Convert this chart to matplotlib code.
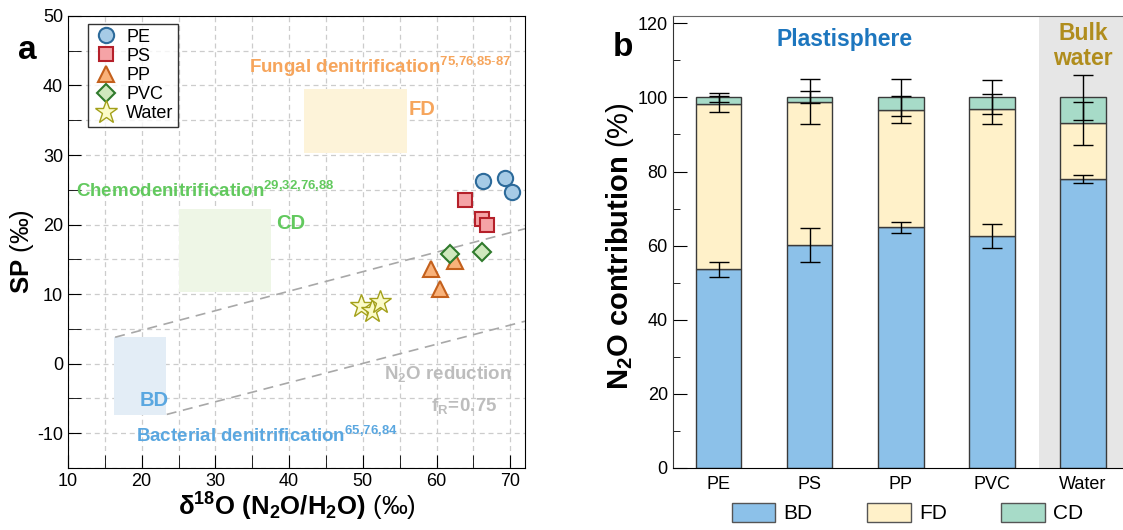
import numpy as np
import matplotlib
matplotlib.use("Agg")
import matplotlib.pyplot as plt
from matplotlib.patches import Rectangle, Patch

plt.rcParams['font.family'] = ['Liberation Sans', 'DejaVu Sans']
plt.rcParams['mathtext.fontset'] = 'custom'
plt.rcParams['mathtext.rm'] = 'Liberation Sans'
plt.rcParams['mathtext.bf'] = 'Liberation Sans:bold'
plt.rcParams['mathtext.it'] = 'Liberation Sans:italic'
plt.rcParams['axes.unicode_minus'] = False

# panel a: isotope data (d18O, SP)
pe_x = [66.3, 69.3, 70.2]
pe_y = [26.3, 26.7, 24.7]
ps_x = [63.9, 66.2, 66.9]
ps_y = [23.5, 20.8, 19.9]
pp_x = [59.3, 60.5, 62.5]
pp_y = [13.6, 10.7, 14.8]
pvc_x = [61.8, 66.2]
pvc_y = [15.7, 16.0]
water_x = [49.8, 51.2, 52.3]
water_y = [8.3, 7.6, 8.9]

# source boxes: (x0, x1, y0, y1)
fd_box = (42, 56, 30.3, 39.5)
cd_box = (25, 37.5, 10.3, 22.2)
bd_box = (16.2, 23.3, -7.4, 3.8)

# reduction lines
line_upper = ([16.4, 72], [3.8, 19.4])
line_lower = ([23.4, 72], [-7.3, 6.1])

# panel b: contributions (%)
samples = ['PE', 'PS', 'PP', 'PVC', 'Water']
bd = [53.6, 60.1, 65.0, 62.6, 78.1]
fd = [44.7, 38.7, 31.7, 34.3, 14.9]
cd = [1.7, 1.2, 3.3, 3.1, 7.0]
bd_err = [2.0, 4.6, 1.5, 3.2, 1.1]
fd_err = [2.2, 6.1, 3.6, 4.0, 5.8]
cd_err = [1.2, 1.6, 5.0, 4.6, 6.0]

fig = plt.figure(figsize=(11.23, 5.3), dpi=100)

# ---------- panel a ----------
ax = fig.add_axes([0.0605, 0.117, 0.407, 0.853])
ax.set_xlim(10, 72)
ax.set_ylim(-15, 50)
ax.set_xticks(np.arange(10, 71, 10))
ax.set_xticks(np.arange(15, 71, 5), minor=True)
ax.set_yticks(np.arange(-10, 51, 10))
ax.set_yticks(np.arange(-15, 51, 5), minor=True)
ax.grid(True, which='both', ls=(0, (4, 3)), color='#cccccc', lw=0.9)
ax.set_axisbelow(True)
ax.tick_params(which='both', direction='in', labelsize=13, top=False, right=False, length=9.5)

for (x0, x1, y0, y1), c in [(fd_box, '#fdf3d9'), (cd_box, '#eef6e6'), (bd_box, '#e3edf6')]:
    ax.add_patch(Rectangle((x0, y0), x1 - x0, y1 - y0, color=c, lw=0, zorder=1))

ax.plot(*line_upper, ls=(0, (6, 4)), color='#a8a8a8', lw=1.2, zorder=2)
ax.plot(*line_lower, ls=(0, (6, 4)), color='#a8a8a8', lw=1.2, zorder=2)

ax.plot(pe_x, pe_y, 'o', ms=11, mfc='#a6cbe6', mec='#2c6a9a', mew=1.5, ls='none', label='PE', zorder=4)
ax.plot(ps_x, ps_y, 's', ms=10, mfc='#f5a3a6', mec='#b5202a', mew=1.5, ls='none', label='PS', zorder=4)
ax.plot(pp_x, pp_y, '^', ms=12, mfc='#f9b27a', mec='#c4601c', mew=1.5, ls='none', label='PP', zorder=4)
ax.plot(pvc_x, pvc_y, 'D', ms=9, mfc='#cfe8bd', mec='#2f7a2c', mew=1.5, ls='none', label='PVC', zorder=4)
ax.plot(water_x, water_y, '*', ms=17, mfc='#fbfbc8', mec='#a3a01a', mew=1.0, ls='none', label='Water', zorder=4)

leg = ax.legend(loc='upper left', bbox_to_anchor=(0.035, 0.99), fontsize=13, frameon=True,
                fancybox=False, edgecolor='black', handletextpad=0.4, borderpad=0.25,
                labelspacing=0.12, handlelength=1.5, borderaxespad=0.2)
leg.get_frame().set_linewidth(1.0)

orange = '#f6a55c'
green = '#62c95e'
blue = '#5aa7e0'
grey = '#bdbdbd'
ax.text(34.6, 41.8, r'$\mathbf{Fungal\ denitrification}^{\mathbf{75{,}76{,}85\text{-}87}}$',
        color=orange, fontsize=13.5, va='baseline', ha='left')
ax.text(56.2, 36.6, 'FD', color=orange, fontsize=14.5, fontweight='bold', va='center')
ax.text(11.1, 24.0, r'$\mathbf{Chemodenitrification}^{\mathbf{29{,}32{,}76{,}88}}$',
        color=green, fontsize=13.5, va='baseline', ha='left')
ax.text(38.3, 20.1, 'CD', color=green, fontsize=14.5, fontweight='bold', va='center')
ax.text(19.7, -5.3, 'BD', color=blue, fontsize=14.5, fontweight='bold', va='center')
ax.text(19.2, -11.3, r'$\mathbf{Bacterial\ denitrification}^{\mathbf{65{,}76{,}84}}$',
        color=blue, fontsize=13.5, va='baseline', ha='left')
ax.text(52.9, -1.5, r'$\mathbf{N_2O\ reduction}$', color=grey, fontsize=13.5, va='center')
ax.text(59.3, -6.1, r'$\mathbf{f_R\!=\!0.75}$', color=grey, fontsize=13.5, va='center')

ax.set_xlabel(r'$\mathbf{δ^{18}O\ (N_2O/H_2O)}$ (‰)', fontsize=18.5, labelpad=1)
ax.set_ylabel(r'$\mathbf{SP}$ (‰)', fontsize=18.5)
ax.yaxis.set_label_coords(-0.07, 0.479)

fig.text(0.016, 0.905, 'a', fontsize=24, fontweight='bold', va='center')

# ---------- panel b ----------
bx = fig.add_axes([0.599, 0.117, 0.401, 0.853])
x = np.arange(len(samples))
bx.set_xlim(-0.505, 4.44)
bx.set_ylim(0, 122)
bx.axvspan(3.52, 4.6, color='#e6e6e6', lw=0, zorder=0)

bd_a = np.array(bd)
fd_a = np.array(fd)
cd_a = np.array(cd)
w = 0.5
ec = '#3a3a3a'
bx.bar(x, bd_a, w, color='#8cc1e9', edgecolor=ec, lw=1, zorder=2)
bx.bar(x, fd_a, w, bottom=bd_a, color='#fff1c9', edgecolor=ec, lw=1, zorder=2)
bx.bar(x, cd_a, w, bottom=bd_a + fd_a, color='#a7dbc8', edgecolor=ec, lw=1, zorder=2)

ekw = dict(fmt='none', ecolor='black', elinewidth=1, capsize=7, capthick=1, zorder=3)
bx.errorbar(x, bd_a, yerr=bd_err, **ekw)
bx.errorbar(x, bd_a + fd_a, yerr=fd_err, **ekw)
bx.errorbar(x, bd_a + fd_a + cd_a, yerr=cd_err, **ekw)

bx.set_xticks(x)
bx.set_xticklabels(samples, fontsize=13)
bx.set_yticks(np.arange(0, 121, 20))
bx.set_yticks(np.arange(10, 121, 20), minor=True)
bx.tick_params(axis='y', which='both', direction='in', labelsize=13)
bx.tick_params(axis='y', which='major', length=10)
bx.tick_params(axis='y', which='minor', length=5)
bx.tick_params(axis='x', length=0, pad=6)
bx.spines['right'].set_visible(False)
bx.spines['top'].set_color('#666666')
bx.spines['left'].set_color('#333333')

bx.text(1.38, 115.7, 'Plastisphere', color='#1d76be', fontsize=16.5, fontweight='bold',
        ha='center', va='center')
bx.text(4.0, 113.8, 'Bulk\nwater', color='#b08d1d', fontsize=16.5, fontweight='bold',
        ha='center', va='center', linespacing=1.1)

bx.set_ylabel(r'$\mathbf{N_2O\ contribution}$ (%)', fontsize=21)
bx.yaxis.set_label_coords(-0.082, 0.49)

handles = [Patch(facecolor='#8cc1e9', edgecolor='#555555', label='BD'),
           Patch(facecolor='#fff1c9', edgecolor='#555555', label='FD'),
           Patch(facecolor='#a7dbc8', edgecolor='#555555', label='CD')]
fig.legend(handles=handles, loc='center', bbox_to_anchor=(0.808, 0.032), ncol=3,
           frameon=False, fontsize=15, handlelength=2.1, handleheight=1.05,
           handletextpad=0.4, columnspacing=2.6)

fig.text(0.546, 0.91, 'b', fontsize=24, fontweight='bold', va='center')

fig.savefig('out.png', dpi=100)
